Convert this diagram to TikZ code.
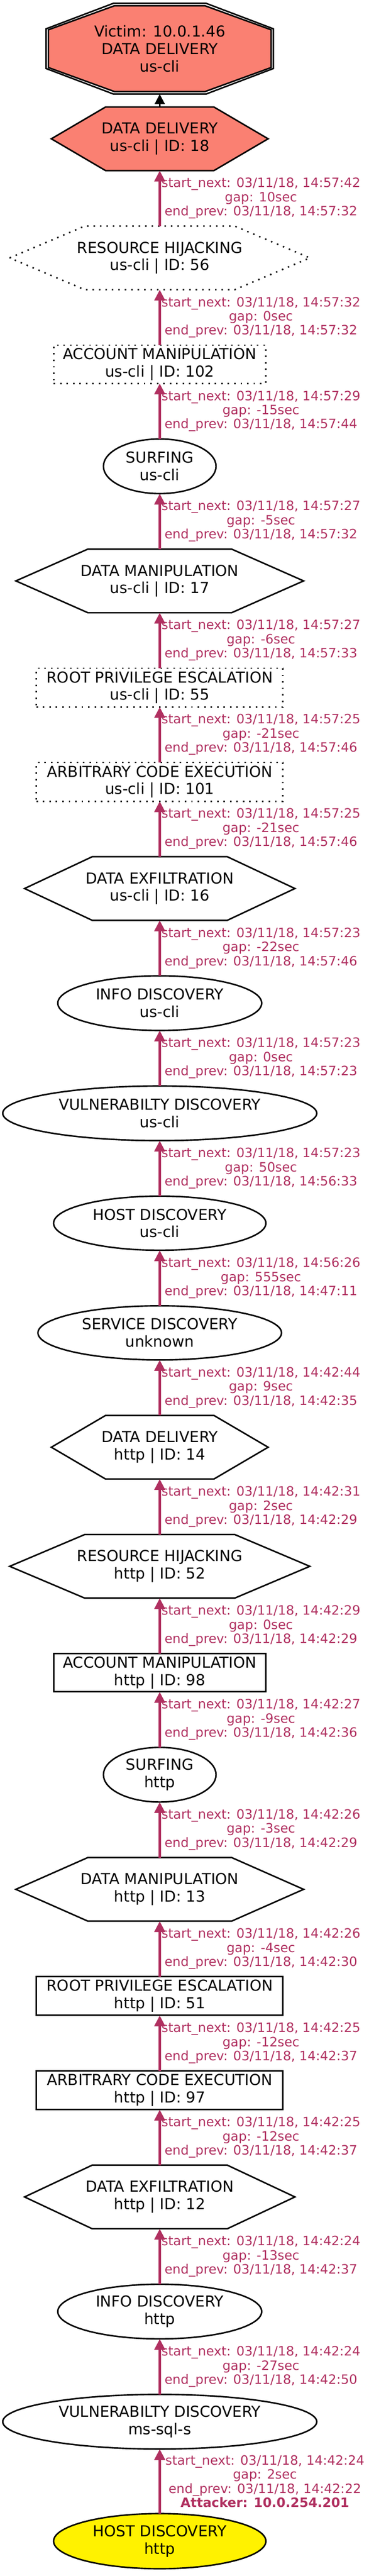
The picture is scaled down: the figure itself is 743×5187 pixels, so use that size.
\documentclass[tikz,border=0pt]{standalone}
\usepackage{fontspec}
\setmainfont{DejaVu Sans}
\usetikzlibrary{positioning, shapes.geometric, arrows.meta, calc, backgrounds}

\definecolor{edgered}{HTML}{B03060}
\definecolor{salmon}{HTML}{FA8072}

\tikzset{
  every node/.style={inner sep=0pt, outer sep=0pt, align=center, font=\fontsize{30.5pt}{35pt}\selectfont},
  dotline/.style={dash pattern=on 3pt off 10pt},
  hexnode/.style={minimum height=128pt},
  boxnode/.style={draw, line width=3pt, minimum height=77pt},
  dotbox/.style={boxnode, dotline},
  ovalnode/.style={ellipse, draw, line width=3pt, minimum height=110pt},
  hexline/.style={draw, line width=3pt, line join=miter},
  hexfill/.style={fill=salmon},
  hexdot/.style={dotline},
  hexplain/.style={},
  flow/.style={edgered, line width=5.5pt, -{Triangle[length=22pt, width=21pt]}},
  link/.style={black, line width=3pt, -{Triangle[length=20pt, width=20pt]}},
  elabel/.style={text=edgered, xshift=204pt, font=\fontsize{26pt}{28.5pt}\selectfont}
}

\begin{document}
\begin{tikzpicture}[x=1pt, y=1pt]
\useasboundingbox (0,0) rectangle (743,-5187);
% victim side (top)
\node[minimum width=459pt, minimum height=183pt] (victim) at (322,-98) {Victim: 10.0.1.46\\DATA DELIVERY\\us-cli};
\node[hexnode, minimum width=437pt, below=26pt of victim] (dd18) {DATA DELIVERY\\us-cli | ID: 18};
\node[hexnode, minimum width=605pt, below=111.8pt of dd18] (rh56) {RESOURCE HIJACKING\\us-cli | ID: 56};
\node[dotbox, minimum width=428pt, below=111.8pt of rh56] (am102) {ACCOUNT MANIPULATION\\us-cli | ID: 102};
\node[ovalnode, minimum width=227pt, below=111.8pt of am102] (surfc) {SURFING\\us-cli};
\node[hexnode, minimum width=580pt, below=111.8pt of surfc] (dm17) {DATA MANIPULATION\\us-cli | ID: 17};
\node[dotbox, minimum width=497pt, minimum height=78pt, below=111.8pt of dm17] (rpe55) {ROOT PRIVILEGE ESCALATION\\us-cli | ID: 55};
\node[dotbox, minimum width=497pt, minimum height=78pt, below=111.8pt of rpe55] (ace101) {ARBITRARY CODE EXECUTION\\us-cli | ID: 101};
\node[hexnode, minimum width=545pt, below=111.8pt of ace101] (de16) {DATA EXFILTRATION\\us-cli | ID: 16};
\node[ovalnode, minimum width=411pt, below=111.8pt of de16] (idc) {INFO DISCOVERY\\us-cli};
\node[ovalnode, minimum width=633pt, below=111.8pt of idc] (vdc) {VULNERABILTY DISCOVERY\\us-cli};
\node[ovalnode, minimum width=428pt, minimum height=109pt, below=111.8pt of vdc] (hdc) {HOST DISCOVERY\\us-cli};
\node[ovalnode, minimum width=491pt, minimum height=109pt, below=111.8pt of hdc] (sd) {SERVICE DISCOVERY\\unknown};
% http side
\node[hexnode, minimum width=437pt, below=111.8pt of sd] (dd14) {DATA DELIVERY\\http | ID: 14};
\node[hexnode, minimum width=605pt, below=111.8pt of dd14] (rh52) {RESOURCE HIJACKING\\http | ID: 52};
\node[boxnode, minimum width=428pt, below=111.8pt of rh52] (am98) {ACCOUNT MANIPULATION\\http | ID: 98};
\node[ovalnode, minimum width=227pt, below=111.8pt of am98] (surfh) {SURFING\\http};
\node[hexnode, minimum width=580pt, below=111.8pt of surfh] (dm13) {DATA MANIPULATION\\http | ID: 13};
\node[boxnode, minimum width=497pt, minimum height=78pt, below=111.8pt of dm13] (rpe51) {ROOT PRIVILEGE ESCALATION\\http | ID: 51};
\node[boxnode, minimum width=497pt, minimum height=78pt, below=111.8pt of rpe51] (ace97) {ARBITRARY CODE EXECUTION\\http | ID: 97};
\node[hexnode, minimum width=545pt, below=111.8pt of ace97] (de12) {DATA EXFILTRATION\\http | ID: 12};
\node[ovalnode, minimum width=411pt, below=111.8pt of de12] (idh) {INFO DISCOVERY\\http};
\node[ovalnode, minimum width=633pt, below=111.8pt of idh] (vdm) {VULNERABILTY DISCOVERY\\ms-sql-s};
\node[ovalnode, minimum width=428pt, minimum height=111pt, fill=yellow, below=130pt of vdm] (hdh) {HOST DISCOVERY\\http};

% outlines behind the text
\begin{scope}[on background layer]
  \begin{scope}[shift={(victim.center)}]
    \draw[line width=3pt] (-93,91.5) -- (93,91.5) -- (229,40) -- (229,-40) -- (93,-91.5) -- (-93,-91.5) -- (-229,-40) -- (-229,40) -- cycle;
    \draw[line width=3pt, fill=salmon] (-91,86.5) -- (91,86.5) -- (224.5,38) -- (224.5,-38) -- (91,-86.5) -- (-91,-86.5) -- (-224.5,-38) -- (-224.5,38) -- cycle;
  \end{scope}
  \foreach \n/\look in {dd18/hexfill, rh56/hexdot, dm17/hexplain, de16/hexplain, dd14/hexplain, rh52/hexplain, dm13/hexplain, de12/hexplain}
    \draw[hexline, \look] (\n.west) -- ($(\n.north west)!.25!(\n.north east)$) -- ($(\n.north west)!.75!(\n.north east)$) -- (\n.east) -- ($(\n.south west)!.75!(\n.south east)$) -- ($(\n.south west)!.25!(\n.south east)$) -- cycle;
\end{scope}

\draw[link] (dd18) -- (victim);
\draw[flow] (rh56) -- node[elabel] {start\_next: 03/11/18, 14:57:42\\gap: 10sec\\end\_prev: 03/11/18, 14:57:32} (dd18);
\draw[flow] (am102) -- node[elabel] {start\_next: 03/11/18, 14:57:32\\gap: 0sec\\end\_prev: 03/11/18, 14:57:32} (rh56);
\draw[flow] (surfc) -- node[elabel] {start\_next: 03/11/18, 14:57:29\\gap: -15sec\\end\_prev: 03/11/18, 14:57:44} (am102);
\draw[flow] (dm17) -- node[elabel] {start\_next: 03/11/18, 14:57:27\\gap: -5sec\\end\_prev: 03/11/18, 14:57:32} (surfc);
\draw[flow] (rpe55) -- node[elabel] {start\_next: 03/11/18, 14:57:27\\gap: -6sec\\end\_prev: 03/11/18, 14:57:33} (dm17);
\draw[flow] (ace101) -- node[elabel] {start\_next: 03/11/18, 14:57:25\\gap: -21sec\\end\_prev: 03/11/18, 14:57:46} (rpe55);
\draw[flow] (de16) -- node[elabel] {start\_next: 03/11/18, 14:57:25\\gap: -21sec\\end\_prev: 03/11/18, 14:57:46} (ace101);
\draw[flow] (idc) -- node[elabel] {start\_next: 03/11/18, 14:57:23\\gap: -22sec\\end\_prev: 03/11/18, 14:57:46} (de16);
\draw[flow] (vdc) -- node[elabel] {start\_next: 03/11/18, 14:57:23\\gap: 0sec\\end\_prev: 03/11/18, 14:57:23} (idc);
\draw[flow] (hdc) -- node[elabel] {start\_next: 03/11/18, 14:57:23\\gap: 50sec\\end\_prev: 03/11/18, 14:56:33} (vdc);
\draw[flow] (sd) -- node[elabel] {start\_next: 03/11/18, 14:56:26\\gap: 555sec\\end\_prev: 03/11/18, 14:47:11} (hdc);
\draw[flow] (dd14) -- node[elabel] {start\_next: 03/11/18, 14:42:44\\gap: 9sec\\end\_prev: 03/11/18, 14:42:35} (sd);
\draw[flow] (rh52) -- node[elabel] {start\_next: 03/11/18, 14:42:31\\gap: 2sec\\end\_prev: 03/11/18, 14:42:29} (dd14);
\draw[flow] (am98) -- node[elabel] {start\_next: 03/11/18, 14:42:29\\gap: 0sec\\end\_prev: 03/11/18, 14:42:29} (rh52);
\draw[flow] (surfh) -- node[elabel] {start\_next: 03/11/18, 14:42:27\\gap: -9sec\\end\_prev: 03/11/18, 14:42:36} (am98);
\draw[flow] (dm13) -- node[elabel] {start\_next: 03/11/18, 14:42:26\\gap: -3sec\\end\_prev: 03/11/18, 14:42:29} (surfh);
\draw[flow] (rpe51) -- node[elabel] {start\_next: 03/11/18, 14:42:26\\gap: -4sec\\end\_prev: 03/11/18, 14:42:30} (dm13);
\draw[flow] (ace97) -- node[elabel] {start\_next: 03/11/18, 14:42:25\\gap: -12sec\\end\_prev: 03/11/18, 14:42:37} (rpe51);
\draw[flow] (de12) -- node[elabel] {start\_next: 03/11/18, 14:42:25\\gap: -12sec\\end\_prev: 03/11/18, 14:42:37} (ace97);
\draw[flow] (idh) -- node[elabel] {start\_next: 03/11/18, 14:42:24\\gap: -13sec\\end\_prev: 03/11/18, 14:42:37} (de12);
\draw[flow] (vdm) -- node[elabel] {start\_next: 03/11/18, 14:42:24\\gap: -27sec\\end\_prev: 03/11/18, 14:42:50} (idh);
\draw[flow] (hdh) -- node[elabel, xshift=8pt] {start\_next: 03/11/18, 14:42:24\\gap: 2sec\\end\_prev: 03/11/18, 14:42:22\\\textbf{Attacker: 10.0.254.201}} (vdm);
\end{tikzpicture}
\end{document}
